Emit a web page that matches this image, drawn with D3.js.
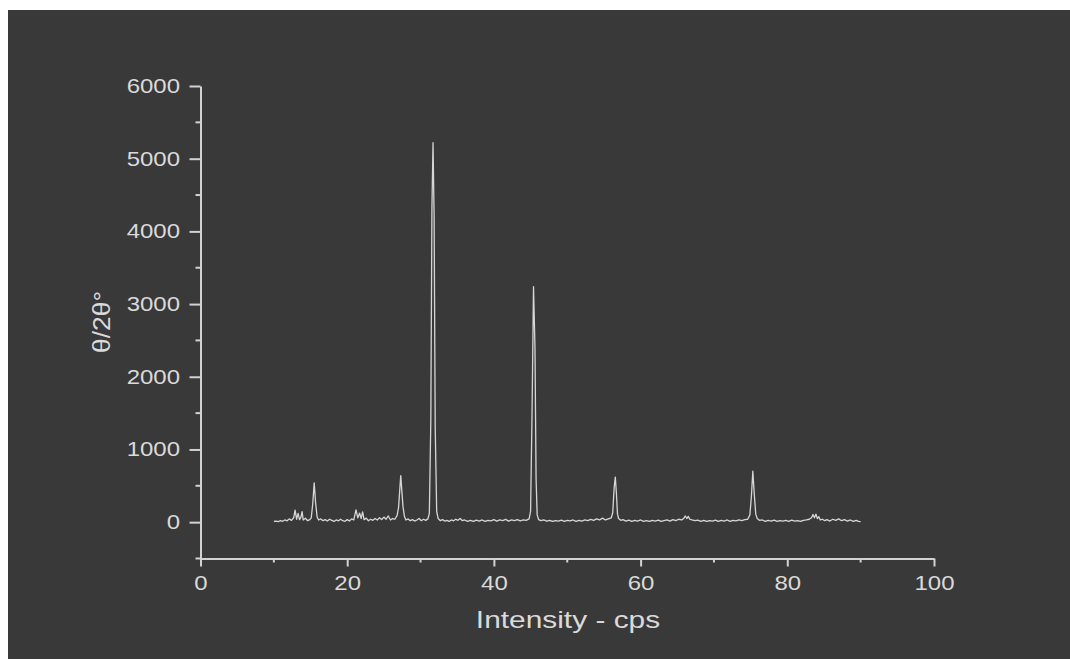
<!DOCTYPE html>
<html>
<head>
<meta charset="utf-8">
<script src="https://cdn.jsdelivr.net/npm/d3@7"></script>
<style>
  html, body { margin: 0; padding: 0; background: #fff; }
  svg { display: block; }
</style>
</head>
<body>
<div id="chart"></div>
<script>
// ─── colours ─────────────────────────────────────────────────────
const panelBg   = "#393939";
const axisGrey  = "#d2d2d2";
const textGrey  = "#dadada";
const traceGrey = "#d6d6d6";

// ─── data ────────────────────────────────────────────────────────
const twoTheta = [
  10.0, 10.3, 10.6, 10.9, 11.2, 11.5, 11.8, 12.1, 12.4, 12.7, 12.9, 13.1, 13.3, 13.5, 13.7, 13.85,
  14.0, 14.3, 14.6, 14.9, 15.1, 15.3, 15.5, 15.7, 15.9, 16.1, 16.4, 16.7, 17.0, 17.3, 17.6, 17.9,
  18.2, 18.5, 18.8, 19.1, 19.4, 19.7, 20.0, 20.3, 20.6, 20.9, 21.2, 21.45, 21.7, 21.9, 22.1, 22.3,
  22.6, 22.9, 23.2, 23.5, 23.8, 24.1, 24.4, 24.7, 25.0, 25.3, 25.6, 25.9, 26.2, 26.5, 26.8, 27.0,
  27.3, 27.6, 27.8, 28.0, 28.3, 28.6, 28.9, 29.2, 29.5, 29.8, 30.1, 30.4, 30.7, 31.0, 31.2, 31.4,
  31.55, 31.7, 31.85, 32.0, 32.2, 32.4, 32.7, 33.0, 33.3, 33.6, 33.9, 34.2, 34.5, 34.8, 35.1, 35.4,
  35.7, 36.0, 36.4, 36.8, 37.2, 37.6, 38.0, 38.4, 38.8, 39.2, 39.6, 40.0, 40.4, 40.8, 41.2, 41.6,
  42.0, 42.4, 42.8, 43.2, 43.6, 44.0, 44.4, 44.8, 45.0, 45.2, 45.4, 45.6, 45.75, 45.9, 46.1, 46.4,
  46.8, 47.2, 47.6, 48.0, 48.4, 48.8, 49.2, 49.6, 50.0, 50.4, 50.8, 51.2, 51.6, 52.0, 52.4, 52.8,
  53.2, 53.6, 54.0, 54.4, 54.8, 55.2, 55.6, 56.0, 56.2, 56.4, 56.55, 56.7, 56.85, 57.0, 57.3, 57.6,
  58.0, 58.4, 58.8, 59.2, 59.6, 60.0, 60.4, 60.8, 61.2, 61.6, 62.0, 62.4, 62.8, 63.2, 63.6, 64.0,
  64.4, 64.8, 65.2, 65.6, 65.9, 66.1, 66.3, 66.5, 66.7, 67.0, 67.4, 67.8, 68.2, 68.6, 69.0, 69.4,
  69.8, 70.2, 70.6, 71.0, 71.4, 71.8, 72.2, 72.6, 73.0, 73.4, 73.8, 74.2, 74.6, 74.9, 75.1, 75.3,
  75.5, 75.7, 75.9, 76.2, 76.6, 77.0, 77.4, 77.8, 78.2, 78.6, 79.0, 79.4, 79.8, 80.2, 80.6, 81.0,
  81.4, 81.8, 82.2, 82.6, 83.0, 83.3, 83.5, 83.7, 83.9, 84.1, 84.3, 84.5, 84.8, 85.1, 85.4, 85.8,
  86.2, 86.6, 87.0, 87.4, 87.8, 88.2, 88.6, 89.0, 89.4, 89.7, 90.0
];

const counts = [
  10, 15, 8, 20, 12, 30, 18, 45, 25, 60, 165, 40, 120, 35, 70, 145,
  30, 55, 20, 35, 60, 250, 540, 260, 70, 30, 45, 20, 35, 15, 40, 25,
  10, 30, 18, 40, 20, 12, 35, 15, 45, 30, 170, 60, 125, 50, 140, 35,
  55, 20, 40, 25, 50, 30, 60, 35, 70, 40, 85, 30, 50, 40, 90, 200,
  640, 220, 80, 30, 45, 20, 35, 15, 30, 50, 20, 40, 25, 45, 120, 1400,
  4300, 5220, 4200, 1300, 150, 50, 20, 35, 15, 25, 10, 30, 18, 40, 25, 50,
  20, 30, 12, 25, 10, 28, 15, 30, 12, 25, 18, 35, 15, 30, 20, 38,
  15, 30, 22, 35, 18, 30, 25, 45, 150, 1500, 3240, 2400, 600, 100, 35, 20,
  30, 15, 25, 10, 22, 15, 28, 12, 25, 18, 30, 12, 25, 15, 30, 20,
  38, 25, 45, 30, 55, 30, 45, 60, 130, 480, 620, 400, 110, 50, 25, 35,
  15, 28, 12, 25, 15, 30, 12, 22, 10, 25, 15, 28, 12, 22, 30, 15,
  35, 20, 40, 30, 55, 85, 50, 80, 40, 30, 20, 28, 12, 25, 10, 22,
  15, 28, 12, 25, 15, 30, 12, 25, 18, 30, 20, 35, 40, 100, 350, 700,
  380, 110, 50, 25, 30, 12, 25, 15, 28, 10, 22, 15, 25, 12, 28, 15,
  22, 10, 25, 30, 40, 60, 105, 60, 110, 50, 75, 30, 40, 20, 35, 15,
  40, 25, 45, 20, 35, 15, 30, 12, 25, 10, 8
];

const xTicks      = [0, 20, 40, 60, 80, 100];
const xMinorTicks = [10, 30, 50, 70, 90];
const yTicks      = [0, 1000, 2000, 3000, 4000, 5000, 6000];
const yMinorTicks = [-500, 500, 1500, 2500, 3500, 4500, 5500];

const xTitle = "Intensity - cps";
const yTitle = "θ/2θ°";

// ─── canvas ──────────────────────────────────────────────────────
const width  = 1070;
const height = 659;

const svg = d3.select("#chart")
    .append("svg")
    .attr("width", width)
    .attr("height", height);

// dark panel (the original has a thin white strip top and left)
svg.append("rect")
    .attr("x", 8)
    .attr("y", 10)
    .attr("width", width - 8)
    .attr("height", height - 10)
    .attr("fill", panelBg);

// plot area in pixels
const plot = { left: 200.5, right: 934, top: 86, bottom: 558.5 };

const x = d3.scaleLinear().domain([0, 100]).range([plot.left, plot.right]);
const y = d3.scaleLinear().domain([-500, 6000]).range([plot.bottom, plot.top]);

// horizontal stretch that the original text shows
const stretch = 1.2;
const fontFamily = "'Liberation Sans', Arial, sans-serif";

// ─── axes ────────────────────────────────────────────────────────
const styleAxis = g => {
    g.select(".domain").attr("stroke", axisGrey).attr("stroke-width", 2);
    g.selectAll(".tick line").attr("stroke", axisGrey).attr("stroke-width", 2);
};

// x axis
const xAxisG = svg.append("g")
    .attr("transform", `translate(0, ${plot.bottom})`)
    .call(d3.axisBottom(x).tickValues(xTicks).tickFormat(d3.format("d"))
        .tickSize(8).tickSizeOuter(0).tickPadding(9))
    .call(styleAxis);

xAxisG.selectAll(".tick text")
    .attr("fill", textGrey)
    .style("font-family", fontFamily)
    .style("font-size", "20px")
    .attr("transform", `scale(${stretch},1)`);

svg.append("g")
    .attr("transform", `translate(0, ${plot.bottom})`)
    .selectAll("line")
    .data(xMinorTicks)
    .join("line")
    .attr("x1", d => x(d))
    .attr("x2", d => x(d))
    .attr("y1", 0)
    .attr("y2", 4)
    .attr("stroke", axisGrey)
    .attr("stroke-width", 2);

// y axis
const yAxisG = svg.append("g")
    .attr("transform", `translate(${plot.left}, 0)`)
    .call(d3.axisLeft(y).tickValues(yTicks).tickFormat(d3.format("d"))
        .tickSize(11).tickSizeOuter(0).tickPadding(0))
    .call(styleAxis);

yAxisG.selectAll(".tick text")
    .attr("fill", textGrey)
    .attr("x", -20.5 / stretch)
    .style("font-family", fontFamily)
    .style("font-size", "20px")
    .attr("transform", `scale(${stretch},1)`);

svg.append("g")
    .attr("transform", `translate(${plot.left}, 0)`)
    .selectAll("line")
    .data(yMinorTicks)
    .join("line")
    .attr("x1", 0)
    .attr("x2", -5)
    .attr("y1", d => y(d))
    .attr("y2", d => y(d))
    .attr("stroke", axisGrey)
    .attr("stroke-width", 2);

// ─── trace ───────────────────────────────────────────────────────
const points = twoTheta.map((t, i) => [t, counts[i]]);

const line = d3.line()
    .x(d => x(d[0]))
    .y(d => y(d[1]));

svg.append("path")
    .datum(points)
    .attr("d", line)
    .attr("fill", "none")
    .attr("stroke", traceGrey)
    .attr("stroke-width", 1.3)
    .attr("stroke-linejoin", "round");

// ─── titles ──────────────────────────────────────────────────────
svg.append("text")
    .attr("transform", `translate(568, 628) scale(1.3,1)`)
    .attr("text-anchor", "middle")
    .attr("fill", textGrey)
    .style("font-family", fontFamily)
    .style("font-size", "23px")
    .text(xTitle);

svg.append("text")
    .attr("transform", `translate(110, 322) rotate(-90) scale(1.1,1)`)
    .attr("text-anchor", "middle")
    .attr("fill", textGrey)
    .style("font-family", fontFamily)
    .style("font-size", "24px")
    .text(yTitle);
</script>
</body>
</html>
